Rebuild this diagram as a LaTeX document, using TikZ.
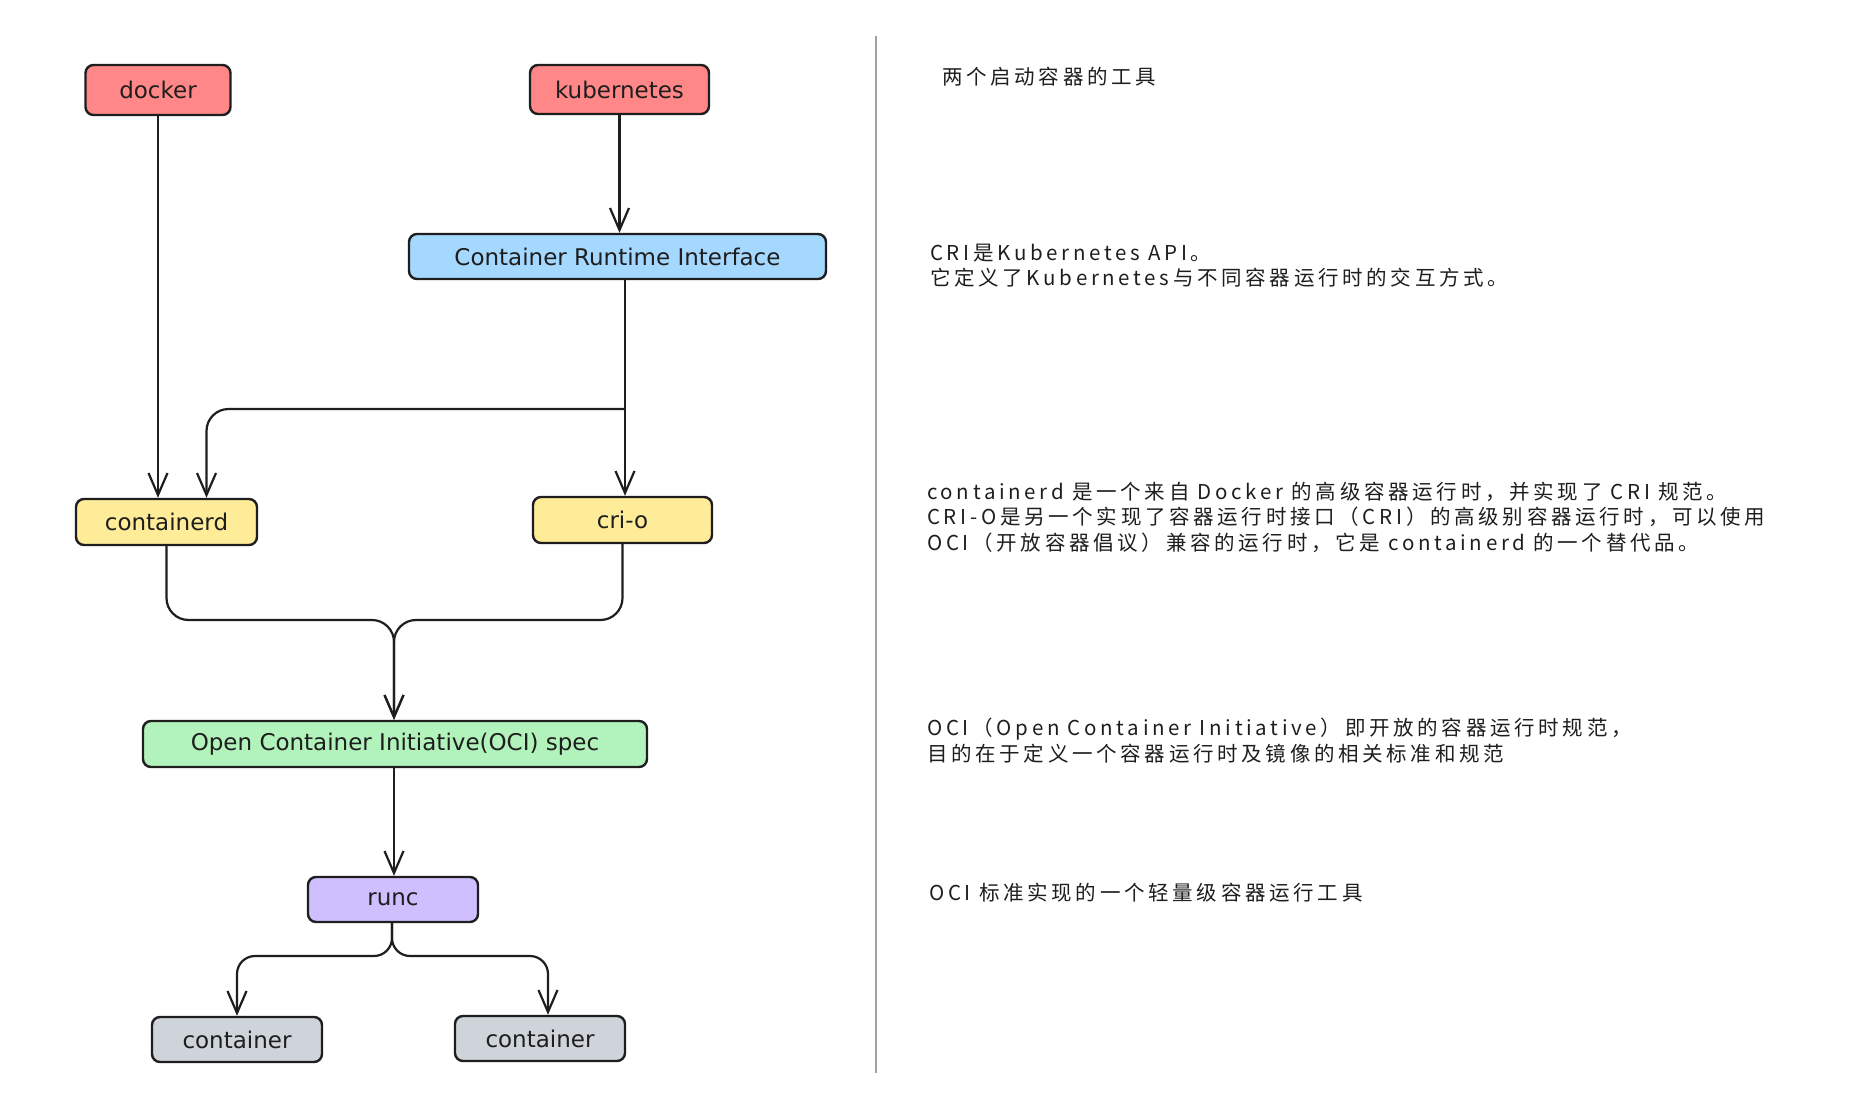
\documentclass[tikz,border=0pt]{standalone}
\usepackage{fontspec}
\setmainfont{DejaVu Sans}
\newfontfamily\cjk[LetterSpace=18]{Noto Sans CJK SC}
\usetikzlibrary{arrows.meta}
\definecolor{ink}{HTML}{1E1E1E}
\definecolor{cred}{HTML}{FF8787}
\definecolor{cblue}{HTML}{A5D8FF}
\definecolor{cyellow}{HTML}{FFEC99}
\definecolor{cgreen}{HTML}{B2F2BB}
\definecolor{cpurple}{HTML}{D0BFFF}
\definecolor{cgray}{HTML}{CED4DA}
\definecolor{divgray}{HTML}{A0A0A0}
\tikzset{
  box/.style={draw=ink, line width=2.4pt, rounded corners=8pt, inner sep=0pt,
    text=ink, font=\fontsize{23}{26}\selectfont},
  arr/.style={draw=ink, line width=2.2pt, -{Straight Barb[length=22pt,width=19pt,line width=2.2pt]}},
  note/.style={anchor=west, align=left, text=ink, inner sep=0pt,
    font=\cjk\fontsize{20.5}{25.5}\selectfont},
}
\begin{document}
\begin{tikzpicture}[x=1pt,y=-1pt]
\useasboundingbox[fill=white] (0,0) rectangle (1863,1097);

% nodes
\node[box, fill=cred, minimum width=145pt, minimum height=50pt] (docker) at (158,90) {docker};
\node[box, fill=cred, minimum width=179pt, minimum height=49pt] (k8s) at (619.5,89.5) {kubernetes};
\node[box, fill=cblue, minimum width=417pt, minimum height=45pt] (cri) at (617.5,256.5) {Container Runtime Interface};
\node[box, fill=cyellow, minimum width=181pt, minimum height=46pt] (cd) at (166.5,522) {containerd};
\node[box, fill=cyellow, minimum width=179pt, minimum height=46pt] (crio) at (622.5,520) {cri-o};
\node[box, fill=cgreen, minimum width=504pt, minimum height=46pt] (oci) at (395,744) {Open Container Initiative(OCI) spec};
\node[box, fill=cpurple, minimum width=170pt, minimum height=45pt] (runc) at (393,899.5) {runc};
\node[box, fill=cgray, minimum width=170pt, minimum height=45pt] (c1) at (237,1039.5) {container};
\node[box, fill=cgray, minimum width=170pt, minimum height=45pt] (c2) at (540,1038.5) {container};

% helper coordinates
\coordinate (brk) at (625,409);
\coordinate (m1) at (394,620);
\coordinate (m2) at (392,956);

% connectors
\draw[arr] (docker.south) -- (docker.south |- cd.north);
\draw[arr] (k8s.south) -- (k8s.south |- cri.north);
\draw[arr] (cri.south -| brk) -- (brk |- crio.north);
\draw[arr, rounded corners=22pt] (brk) -| ([xshift=40pt]cd.north);
\draw[arr, rounded corners=22pt] (cd.south) |- (m1) -- (m1 |- oci.north);
\draw[arr, rounded corners=22pt] (crio.south) |- (m1) -- (m1 |- oci.north);
\draw[arr] (m1 |- oci.south) -- (m1 |- runc.north);
\draw[arr, rounded corners=18pt] (m2 |- runc.south) -- (m2) -| (c1.north);
\draw[arr, rounded corners=18pt] (m2 |- runc.south) -- (m2) -| ([xshift=8pt]c2.north);

% divider
\draw[divgray, line width=2pt] (876,36) -- (876,1073);

% notes
\node[note] (n1) at (942,77) {两个启动容器的工具};
\node[note] (n2) at (930,265.5) {CRI是Kubernetes API。\\它定义了Kubernetes与不同容器运行时的交互方式。};
\node[note] (n3) at (927,517) {containerd 是一个来自 Docker 的高级容器运行时，并实现了 CRI 规范。\\CRI-O是另一个实现了容器运行时接口（CRI）的高级别容器运行时，可以使用\\OCI（开放容器倡议）兼容的运行时，它是 containerd 的一个替代品。};
\node[note] (n4) at (927,740.5) {OCI（Open Container Initiative）即开放的容器运行时规范，\\目的在于定义一个容器运行时及镜像的相关标准和规范};
\node[note] (n5) at (929,893) {OCI 标准实现的一个轻量级容器运行工具};
\end{tikzpicture}
\end{document}
